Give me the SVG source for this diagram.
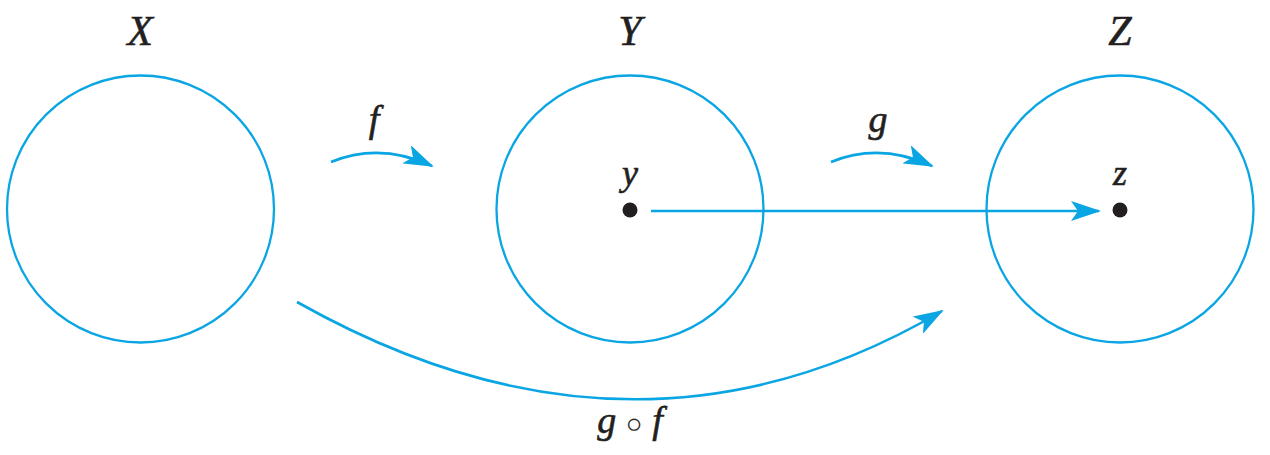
<svg xmlns="http://www.w3.org/2000/svg" width="1270" height="455" viewBox="0 0 1270 455">
<style>
.set{fill:none;stroke:#0aa5e3;stroke-width:2.3}
.conn{fill:none;stroke:#0aa5e3;stroke-width:2.6}
.lbl{font-family:"Liberation Serif","DejaVu Serif",serif;font-style:italic;fill:#231f20;stroke:#231f20;stroke-width:0.6;text-anchor:middle}
.pt{fill:#231f20}
</style>
<defs>
<marker id="ah" viewBox="0 0 30 20" refX="28" refY="10" markerWidth="30" markerHeight="20" markerUnits="userSpaceOnUse" orient="auto">
<path d="M0,0 L30,10 L0,20 L7,10 Z" fill="#0aa5e3"/>
</marker>
</defs>
<rect width="1270" height="455" fill="#fff"/>
<g id="nodeX">
<circle class="set" cx="140.5" cy="209" r="133.5"/>
<text class="lbl" x="140" y="45" font-size="42">X</text>
</g>
<g id="nodeY">
<circle class="set" cx="630" cy="209" r="133.5"/>
<text class="lbl" x="630" y="45" font-size="42">Y</text>
<circle class="pt" cx="630" cy="210" r="7.5"/>
<text class="lbl" x="630" y="185" font-size="36">y</text>
</g>
<g id="nodeZ">
<circle class="set" cx="1120" cy="209" r="133.5"/>
<text class="lbl" x="1120" y="45" font-size="42">Z</text>
<circle class="pt" cx="1120" cy="210" r="7.5"/>
<text class="lbl" x="1120" y="185" font-size="36">z</text>
</g>
<g id="connectors">
<path class="conn" d="M331,162 Q380,142 432,166" marker-end="url(#ah)"/>
<text class="lbl" x="374" y="132" font-size="38">f</text>
<path class="conn" d="M831,162 Q880,142 932,166" marker-end="url(#ah)"/>
<text class="lbl" x="878" y="132" font-size="38">g</text>
<path class="conn" d="M651,211 L1099,211" marker-end="url(#ah)"/>
<path class="conn" d="M297,302 Q634,492 942,311" marker-end="url(#ah)"/>
<text class="lbl" x="630" y="433" font-size="38">g <tspan font-size="28" font-style="normal" stroke-width="0.2">○</tspan> f</text>
</g>
</svg>
